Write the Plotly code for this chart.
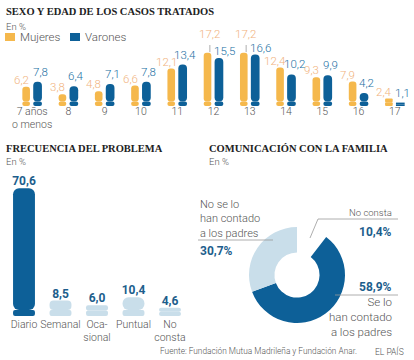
import plotly.graph_objects as go

W, H = 414, 360

edades = ["7 años<br>o menos", "8", "9", "10", "11", "12", "13", "14", "15", "16", "17"]
mujeres = [6.2, 3.8, 4.8, 6.6, 12.1, 17.2, 17.2, 12.4, 9.3, 7.9, 2.4]
varones = [7.8, 6.4, 7.1, 7.8, 13.4, 15.5, 16.6, 10.2, 9.9, 4.2, 1.1]

frecuencia_cat = ["Diario", "Semanal", "Oca-<br>sional", "Puntual", "No<br>consta"]
frecuencia_val = [70.6, 8.5, 6.0, 10.4, 4.6]

comunicacion_cat = ["No consta", "Se lo han contado a los padres", "No se lo han contado a los padres"]
comunicacion_val = [10.4, 58.9, 30.7]

ORANGE = "#F5B84C"
ORANGE_TXT = "#F1B37E"
BLUE = "#0D6098"
BLUE_TXT = "#2370A4"
BOLD_BLUE = "#1D5E8C"
LIGHT = "#C9DEEA"
GRAY = "#555555"
SANS = "Roboto, Arial, sans-serif"
SERIF = "Liberation Serif, Times New Roman, serif"
LIGHTW = 300

# orange labels that are lifted with a leader line (ages 12 and 13)
RAISED = {5, 6}


def X(px):
    return px / W


def Y(py):
    return 1 - py / H


def fmt(v):
    return f"{v:.1f}".replace(".", ",")


def pill(x, vals, offset, width, color, xa, ya, cap, radius):
    c = [min(v / 2, cap) for v in vals]
    top = go.Bar(x=x, y=[v - ci for v, ci in zip(vals, c)], base=c, offset=offset, width=width,
                 marker=dict(color=color, cornerradius=radius, line=dict(width=0)),
                 xaxis=xa, yaxis=ya, showlegend=False, hoverinfo="skip")
    bot = go.Bar(x=x, y=[-ci for ci in c], base=c, offset=offset, width=width,
                 marker=dict(color=color, cornerradius=radius, line=dict(width=0)),
                 xaxis=xa, yaxis=ya, showlegend=False, hoverinfo="skip")
    return [top, bot]


fig = go.Figure()

idx = list(range(len(edades)))
for t in pill(idx, mujeres, -0.27, 0.21, ORANGE, "x", "y", 1.45, 4):
    fig.add_trace(t)
for t in pill(idx, varones, 0.03, 0.24, BLUE, "x", "y", 1.45, 4):
    fig.add_trace(t)

fidx = list(range(len(frecuencia_cat)))
fcolors = [BLUE] + [LIGHT] * (len(frecuencia_cat) - 1)
for t in pill(fidx, frecuencia_val, -0.3, 0.6, fcolors, "x2", "y2", 3.3, 6):
    fig.add_trace(t)
fig.add_trace(go.Scatter(x=fidx, y=frecuencia_val, mode="text",
                         text=[fmt(v) for v in frecuencia_val], textposition="top center",
                         textfont=dict(family=SANS, size=12, color=BOLD_BLUE, weight="bold"),
                         showlegend=False, cliponaxis=False, hoverinfo="skip",
                         xaxis="x2", yaxis="y2"))

cx, cy, r = 297, 275, 48
fig.add_trace(go.Pie(values=comunicacion_val, labels=comunicacion_cat, sort=False,
                     direction="clockwise", rotation=0, hole=0.47, textinfo="none",
                     marker=dict(colors=["rgba(0,0,0,0)", BLUE, LIGHT], line=dict(width=0)),
                     domain=dict(x=[X(cx - r), X(cx + r)], y=[Y(cy + r), Y(cy - r)]),
                     showlegend=False, hoverinfo="skip"))

axis_common = dict(showgrid=False, zeroline=False, showline=False, ticks="", tickangle=0,
                   automargin=False,
                   tickfont=dict(family=SANS, size=10.5, color=GRAY, weight=LIGHTW), fixedrange=True)

fig.update_layout(
    width=W, height=H, margin=dict(l=0, r=0, t=0, b=0, autoexpand=False),
    paper_bgcolor="white", plot_bgcolor="white", barmode="overlay",
    xaxis=dict(domain=[X(14), X(413)], range=[-0.5, 10.5], tickvals=idx, ticktext=edades,
               anchor="y", ticklabelstandoff=-3, **axis_common),
    yaxis=dict(domain=[Y(106), Y(45)], range=[0, 19.7], visible=False, anchor="x"),
    xaxis2=dict(domain=[X(5.75), X(188.25)], range=[-0.5, 4.5], tickvals=fidx,
                ticktext=frecuencia_cat, anchor="y2", **axis_common),
    yaxis2=dict(domain=[Y(316), Y(175)], range=[0, 77.9], visible=False, anchor="x2"),
    showlegend=False,
)

ann = []

# value labels of the age chart, placed through the data axes
for i, v in enumerate(mujeres):
    raised = i in RAISED
    ann.append(dict(x=i - (0.12 if raised else 0.3), y=v, xref="x", yref="y", text=fmt(v),
                    showarrow=False, yanchor="middle", xanchor="center",
                    yshift=19 if raised else 7,
                    font=dict(family=SANS, size=11.5, color=ORANGE_TXT, weight=LIGHTW)))
for i, v in enumerate(varones):
    raised = i in RAISED
    ann.append(dict(x=i + (0.3 if raised else 0.22), y=v, xref="x", yref="y", text=fmt(v),
                    showarrow=False, yanchor="middle", xanchor="center",
                    yshift=7 if raised else 10,
                    font=dict(family=SANS, size=11.5, color=BLUE_TXT, weight=LIGHTW)))


def text(px, py, s, size=11, color=GRAY, family=SANS, weight=LIGHTW, xanchor="left", align="left"):
    ann.append(dict(x=X(px), y=Y(py), xref="paper", yref="paper", text=s, showarrow=False,
                    xanchor=xanchor, yanchor="middle", align=align,
                    font=dict(family=family, size=size, color=color, weight=weight)))


TS = 10.5
text(4, 11, "SEXO Y EDAD DE LOS CASOS TRATADOS", size=TS, color="#222", family=SERIF, weight="bold")
text(4, 27, "En %", size=9.5)
text(4, 148, "FRECUENCIA DEL PROBLEMA", size=TS, color="#222", family=SERIF, weight="bold")
text(4, 161, "En %", size=9.5)
text(207, 148, "COMUNICACIÓN CON LA FAMILIA", size=TS, color="#222", family=SERIF, weight="bold")
text(207, 161, "En %", size=9.5)

# legend (swatches + labels)
text(18, 37, "Mujeres", size=11.5)
text(83, 37, "Varones", size=11.5)

text(198, 219, "No se lo<br>han contado<br>a los padres", size=11)
text(198, 251, fmt(comunicacion_val[2]) + "%", size=12, color=BOLD_BLUE, weight="bold")
text(394, 212, "No consta", size=9.5, xanchor="right", align="right")
text(394, 232, fmt(comunicacion_val[0]) + "%", size=12, color=BOLD_BLUE, weight="bold", xanchor="right")
text(394, 287, fmt(comunicacion_val[1]) + "%", size=12, color=BOLD_BLUE, weight="bold", xanchor="right")
text(394, 317, "Se lo<br>han contado<br>a los padres", size=11.5, xanchor="right", align="right")

text(359, 351, "Fuente: Fundación Mutua Madrileña y Fundación Anar.", size=8.3, xanchor="right")
text(406, 351, "EL PAÍS", size=8.5, xanchor="right")

fig.update_layout(annotations=ann)

lines = [
    dict(type="line", x0=X(198), x1=X(273), y0=Y(240), y1=Y(240)),
    dict(type="path", path=f"M {X(310)},{Y(238)} L {X(318)},{Y(219)} L {X(398)},{Y(219)}"),
    dict(type="line", x0=X(335), x1=X(398), y0=Y(295), y1=Y(295)),
]
for s in lines:
    s.update(xref="paper", yref="paper", line=dict(color="#999999", width=0.8))
# leader lines for the lifted labels, in data coordinates
for i in sorted(RAISED):
    lines.append(dict(type="line", xref="x", yref="y", x0=i - 0.1, x1=i - 0.1,
                      y0=mujeres[i] + 0.2, y1=mujeres[i] + 3.8,
                      line=dict(color="#999999", width=0.8)))
swatches = [
    dict(type="rect", x0=X(5), x1=X(15), y0=Y(41), y1=Y(33), fillcolor=ORANGE),
    dict(type="rect", x0=X(70), x1=X(80), y0=Y(41), y1=Y(33), fillcolor=BLUE),
]
for s in swatches:
    s.update(xref="paper", yref="paper", line=dict(width=0))
fig.update_layout(shapes=lines + swatches)

fig.write_html("out.html", config={"displayModeBar": False, "staticPlot": True},
               post_script="document.body.style.margin='0';document.body.style.padding='0';")
